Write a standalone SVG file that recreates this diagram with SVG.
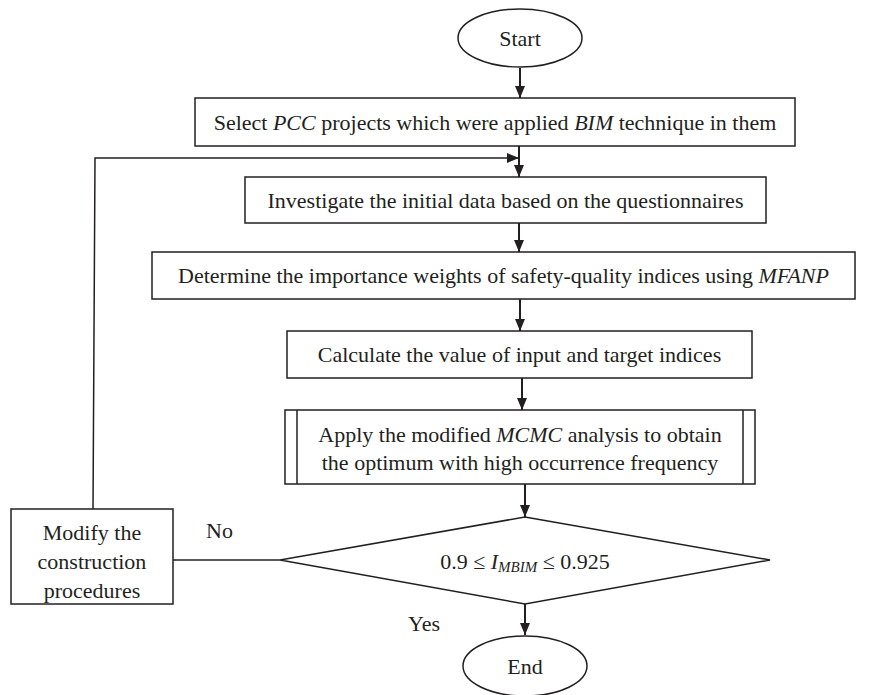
<svg xmlns="http://www.w3.org/2000/svg" width="877" height="695" viewBox="0 0 877 695">
<defs>
<marker id="ah" viewBox="0 0 12 10" refX="12" refY="5" markerWidth="12" markerHeight="10" markerUnits="userSpaceOnUse" orient="auto">
<path d="M0,0 L12,5 L0,10 Z" fill="#231f20"/>
</marker>
<style>
.s{fill:#fff;stroke:#231f20;stroke-width:1.5}
.c{fill:none;stroke:#231f20;stroke-width:2}
.l{fill:none;stroke:#231f20;stroke-width:1.5}
text{font-family:"Liberation Serif","Times New Roman",serif;font-size:22px;fill:#231f20}
.m{text-anchor:middle}
</style>
</defs>
<rect width="877" height="695" fill="#fff"/>
<g id="connectors">
<line class="c" x1="520" y1="68" x2="520" y2="98" marker-end="url(#ah)"/>
<line class="c" x1="519" y1="146" x2="519" y2="177" marker-end="url(#ah)"/>
<polyline class="l" points="93,509 95,158 519,158" marker-end="url(#ah)"/>
<line class="c" x1="519" y1="223" x2="519" y2="252" marker-end="url(#ah)"/>
<line class="c" x1="520" y1="299" x2="520" y2="331" marker-end="url(#ah)"/>
<line class="c" x1="522" y1="378" x2="522" y2="410" marker-end="url(#ah)"/>
<line class="c" x1="525" y1="484" x2="525" y2="517" marker-end="url(#ah)"/>
<line class="l" x1="173" y1="560" x2="280" y2="560"/>
<line class="c" x1="525" y1="604" x2="525" y2="635" marker-end="url(#ah)"/>
<text x="206" y="538">No</text>
<text x="408" y="631">Yes</text>
</g>
<g id="start">
<ellipse class="s" cx="520" cy="38" rx="62" ry="29"/>
<text class="m" x="520" y="46">Start</text>
</g>
<g id="select">
<rect class="s" x="195" y="98" width="600" height="48"/>
<text class="m" x="495" y="130">Select <tspan font-style="italic">PCC</tspan> projects which were applied <tspan font-style="italic">BIM</tspan> technique in them</text>
</g>
<g id="investigate">
<rect class="s" x="245" y="177" width="521" height="46"/>
<text class="m" x="505.5" y="208">Investigate the initial data based on the questionnaires</text>
</g>
<g id="determine">
<rect class="s" x="152" y="252" width="703" height="47"/>
<text class="m" x="503.5" y="283">Determine the importance weights of safety-quality indices using <tspan font-style="italic">MFANP</tspan></text>
</g>
<g id="calculate">
<rect class="s" x="287" y="331" width="465" height="47"/>
<text class="m" x="519.5" y="362">Calculate the value of input and target indices</text>
</g>
<g id="apply">
<rect class="s" x="285" y="410" width="470" height="74"/>
<line class="l" x1="297" y1="410" x2="297" y2="484"/>
<line class="l" x1="743" y1="410" x2="743" y2="484"/>
<text class="m" x="520" y="442">Apply the modified <tspan font-style="italic">MCMC</tspan> analysis to obtain</text>
<text class="m" x="520" y="470">the optimum with high occurrence frequency</text>
</g>
<g id="decision">
<polygon class="s" points="525,517 770,560 525,604 280,560"/>
<text class="m" x="525" y="569">0.9 ≤ <tspan font-style="italic">I</tspan><tspan font-style="italic" font-size="15" dy="3">MBIM</tspan><tspan dy="-3"> ≤ 0.925</tspan></text>
</g>
<g id="modify">
<rect class="s" x="11" y="509" width="162" height="95"/>
<text class="m" x="92" y="540">Modify the</text>
<text class="m" x="92" y="569">construction</text>
<text class="m" x="92" y="598">procedures</text>
</g>
<g id="end">
<ellipse class="s" cx="525" cy="666" rx="62" ry="30"/>
<text class="m" x="525" y="674">End</text>
</g>
</svg>
